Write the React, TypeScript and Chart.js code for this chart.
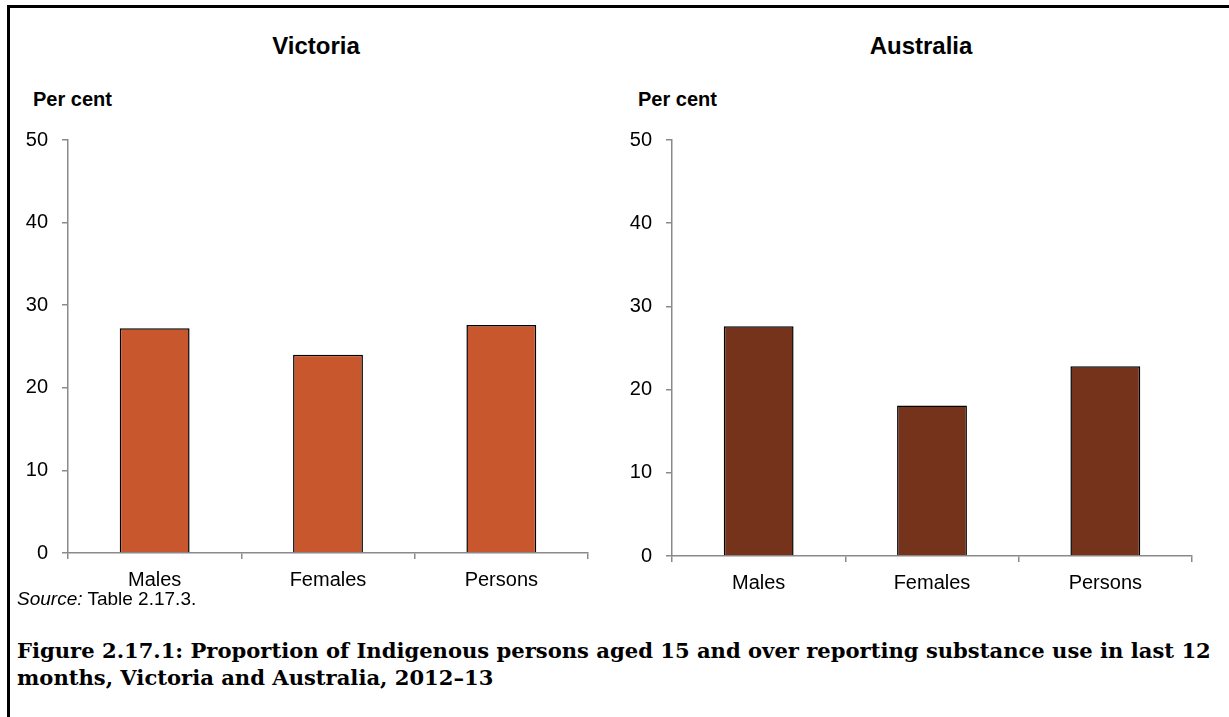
import React, { useEffect, useRef } from "react";
import { Chart, registerables } from "chart.js";

Chart.register(...registerables);

const categories = ["Males", "Females", "Persons"];
const victoriaValues = [27.2, 24.0, 27.6];
const australiaValues = [27.6, 18.1, 22.8];
const yMin = 0;
const yMax = 50;
const yStep = 10;

const SANS = "'Liberation Sans', Arial, sans-serif";
const AXIS = "#8a8a8a";

type PanelProps = {
  left: number;
  values: number[];
  color: string;
  axisHeight: number;
};

function Panel({ left, values, color, axisHeight }: PanelProps) {
  const ref = useRef<HTMLCanvasElement>(null);
  useEffect(() => {
    if (!ref.current) return;
    const chart = new Chart(ref.current, {
      type: "bar",
      data: {
        labels: categories,
        datasets: [
          {
            data: values,
            backgroundColor: color,
            borderColor: "#000000",
            borderWidth: 1.5,
            categoryPercentage: 1,
            barPercentage: 0.403,
          },
        ],
      },
      options: {
        animation: false,
        responsive: false,
        devicePixelRatio: 1,
        layout: { padding: { left: 0, right: 22, top: 13, bottom: 0 } },
        plugins: {
          legend: { display: false },
          tooltip: { enabled: false },
          title: { display: false },
        },
        scales: {
          x: {
            grid: {
              drawOnChartArea: false,
              tickLength: 6,
              color: AXIS,
              offset: true,
              lineWidth: 1.5,
            },
            border: { color: AXIS, width: 1.5 },
            ticks: {
              color: "#000000",
              font: { family: SANS, size: 20 },
              padding: 9,
              maxRotation: 0,
            },
            afterFit: (s: any) => {
              s.height = axisHeight;
            },
          },
          y: {
            min: yMin,
            max: yMax,
            grid: {
              drawOnChartArea: false,
              tickLength: 6,
              color: AXIS,
              lineWidth: 1.5,
            },
            border: { color: AXIS, width: 1.5 },
            ticks: {
              stepSize: yStep,
              color: "#000000",
              font: { family: SANS, size: 20 },
              padding: 14,
            },
            afterFit: (s: any) => {
              s.width = 68;
            },
          },
        },
      },
    });
    return () => chart.destroy();
  }, []);
  return (
    <canvas
      ref={ref}
      width={610}
      height={490}
      style={{ position: "absolute", left, top: 114, width: 610, height: 490 }}
    />
  );
}

const textBase: React.CSSProperties = {
  position: "absolute",
  whiteSpace: "nowrap",
  color: "#000",
  fontFamily: SANS,
  margin: 0,
};

export default function App() {
  return (
    <div
      style={{
        position: "absolute",
        left: 0,
        top: 0,
        width: 1229,
        height: 717,
        background: "#ffffff",
        overflow: "hidden",
      }}
    >
      <div style={{ position: "absolute", left: 7, top: 5, width: 1222, height: 3, background: "#000" }} />
      <div style={{ position: "absolute", left: 7, top: 5, width: 3, height: 712, background: "#000" }} />

      <div style={{ ...textBase, left: 0, width: 632, top: 34, textAlign: "center", fontWeight: "bold", fontSize: 24, lineHeight: "24px" }}>
        Victoria
      </div>
      <div style={{ ...textBase, left: 606, width: 630, top: 34, textAlign: "center", fontWeight: "bold", fontSize: 24, lineHeight: "24px" }}>
        Australia
      </div>
      <div style={{ ...textBase, left: 33, top: 89, fontWeight: "bold", fontSize: 20, lineHeight: "20px" }}>
        Per cent
      </div>
      <div style={{ ...textBase, left: 638, top: 89, fontWeight: "bold", fontSize: 20, lineHeight: "20px" }}>
        Per cent
      </div>

      <Panel left={0} values={victoriaValues} color="#C8572E" axisHeight={51} />
      <Panel left={604} values={australiaValues} color="#75331B" axisHeight={48} />

      <div style={{ ...textBase, left: 17, top: 589, fontSize: 19, lineHeight: "20px" }}>
        <i>Source:</i> Table 2.17.3.
      </div>
      <div
        style={{
          ...textBase,
          left: 17,
          top: 637,
          fontFamily: "'DejaVu Serif', serif",
          fontWeight: "bold",
          fontSize: 21.1,
          lineHeight: "27px",
        }}
      >
        Figure 2.17.1: Proportion of Indigenous persons aged 15 and over reporting substance use in last 12
        <br />
        months, Victoria and Australia, 2012–13
      </div>
    </div>
  );
}
